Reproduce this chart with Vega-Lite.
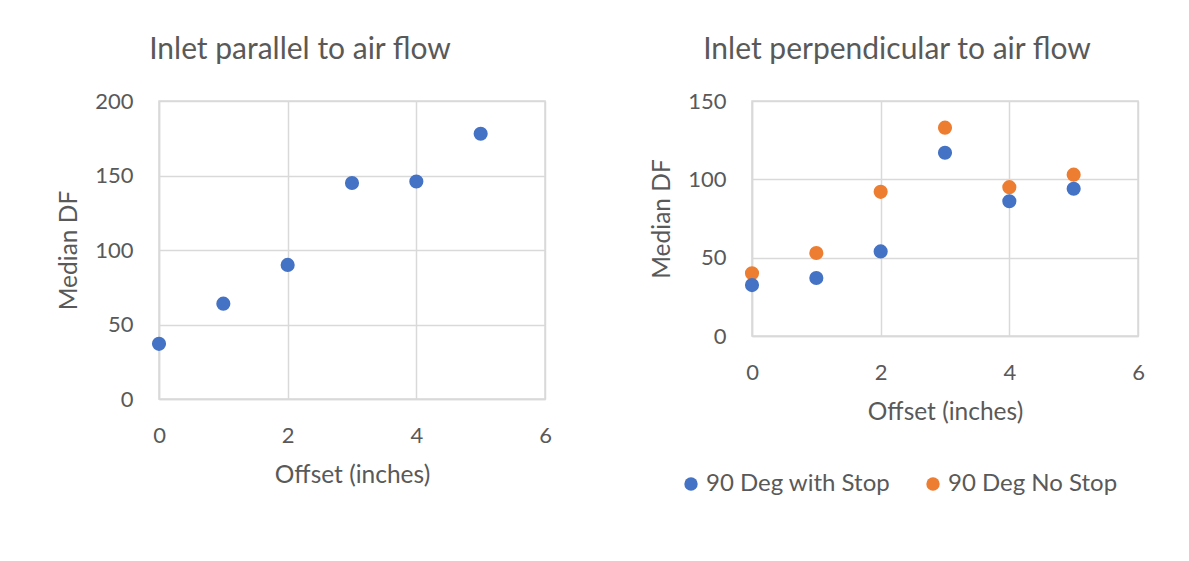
{
  "$schema": "https://vega.github.io/schema/vega-lite/v6.json",
  "background": "white",
  "padding": {"left": 55, "top": 34, "right": 5, "bottom": 5},
  "datasets": {
    "parallel": [
      {"offset": 0, "df": 37},
      {"offset": 1, "df": 64},
      {"offset": 2, "df": 90},
      {"offset": 3, "df": 145},
      {"offset": 4, "df": 146},
      {"offset": 5, "df": 178}
    ],
    "perpendicular": [
      {"offset": 0, "series": "90 Deg No Stop", "df": 40},
      {"offset": 1, "series": "90 Deg No Stop", "df": 53},
      {"offset": 2, "series": "90 Deg No Stop", "df": 92},
      {"offset": 3, "series": "90 Deg No Stop", "df": 133},
      {"offset": 4, "series": "90 Deg No Stop", "df": 95},
      {"offset": 5, "series": "90 Deg No Stop", "df": 103},
      {"offset": 0, "series": "90 Deg with Stop", "df": 32.5},
      {"offset": 1, "series": "90 Deg with Stop", "df": 37},
      {"offset": 2, "series": "90 Deg with Stop", "df": 54},
      {"offset": 3, "series": "90 Deg with Stop", "df": 117},
      {"offset": 4, "series": "90 Deg with Stop", "df": 86},
      {"offset": 5, "series": "90 Deg with Stop", "df": 94}
    ]
  },
  "spacing": 207,
  "bounds": "flush",
  "resolve": {"scale": {"color": "independent"}, "legend": {"color": "independent"}},
  "hconcat": [
    {
      "data": {"name": "parallel"},
      "width": 386,
      "height": 298,
      "title": {"text": "Inlet parallel to air flow", "dx": -52},
      "mark": {"type": "circle", "size": 200, "opacity": 1, "color": "#4472C4"},
      "encoding": {
        "x": {"field": "offset", "type": "quantitative", "scale": {"domain": [0, 6], "nice": false}, "axis": {"values": [0, 2, 4, 6], "title": "Offset (inches)"}},
        "y": {"field": "df", "type": "quantitative", "scale": {"domain": [0, 200], "nice": false}, "axis": {"values": [0, 50, 100, 150, 200], "title": "Median DF"}}
      }
    },
    {
      "data": {"name": "perpendicular"},
      "width": 386,
      "height": 235,
      "title": {"text": "Inlet perpendicular to air flow", "dx": -48},
      "mark": {"type": "circle", "size": 200, "opacity": 1},
      "encoding": {
        "x": {"field": "offset", "type": "quantitative", "scale": {"domain": [0, 6], "nice": false}, "axis": {"values": [0, 2, 4, 6], "title": "Offset (inches)"}},
        "y": {"field": "df", "type": "quantitative", "scale": {"domain": [0, 150], "nice": false}, "axis": {"values": [0, 50, 100, 150], "title": "Median DF"}},
        "color": {"field": "series", "type": "nominal", "scale": {"domain": ["90 Deg with Stop", "90 Deg No Stop"], "range": ["#4472C4", "#ED7D31"]}, "legend": {"title": null, "orient": "none", "direction": "horizontal", "legendX": -73, "legendY": 371}}
      }
    }
  ],
  "config": {
    "font": "Lato",
    "view": {"stroke": "#D9D9D9", "strokeWidth": 1.5},
    "axis": {
      "domainColor": "#D9D9D9",
      "domainWidth": 1.5,
      "gridColor": "#D9D9D9",
      "gridWidth": 1.5,
      "grid": true,
      "ticks": false,
      "tickSize": 0,
      "labelFontSize": 22,
      "labelColor": "#595959",
      "labelPadding": 26,
      "labelFlush": false,
      "titleFontSize": 24.5,
      "titleColor": "#595959",
      "titleFontWeight": "normal"
    },
    "axisX": {"labelPadding": 26, "titlePadding": 17, "labelFlush": false},
    "axisY": {"titlePadding": 13, "labelFlush": false},
    "title": {"fontSize": 30, "fontWeight": "normal", "color": "#595959", "offset": 25},
    "legend": {
      "labelFontSize": 24,
      "labelLimit": 400,
      "labelColor": "#595959",
      "symbolType": "circle",
      "symbolSize": 180,
      "symbolStrokeWidth": 0,
      "symbolOpacity": 1,
      "labelOffset": 3,
      "columnPadding": 30
    }
  }
}
